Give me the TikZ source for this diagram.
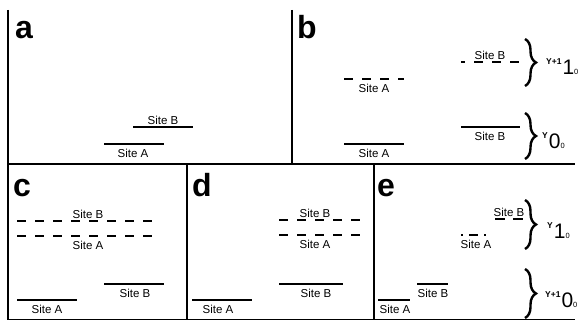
\documentclass[tikz,border=0pt]{standalone}
\usepackage{fontspec}
\setmainfont{Liberation Sans}
\usetikzlibrary{decorations.pathreplacing,positioning}
\newcommand{\spinlev}[3]{\raisebox{10pt}{\fontsize{8.5}{8.5}\selectfont\bfseries #1}\kern1pt{\fontsize{21}{21}\selectfont #2}{\fontsize{7.5}{7.5}\selectfont #3}}

\begin{document}
\begin{tikzpicture}[x=1pt, y=-1pt]
        \tikzstyle{frame}=[line width=1.7pt]
        \tikzstyle{level}=[line width=1.9pt]
        \tikzstyle{virtual}=[level, dash pattern=on 9pt off 9pt]
        \tikzstyle{lblup}=[above=2pt, inner sep=0pt, font=\fontsize{11.5}{11.5}\selectfont]
        \tikzstyle{lbldown}=[below=4.5pt, inner sep=0pt, font=\fontsize{11.5}{11.5}\selectfont]
        \tikzstyle{panel}=[anchor=base west, inner sep=0pt, font=\fontsize{32}{32}\selectfont\bfseries]
        \tikzstyle{group}=[line width=2.4pt, decorate, decoration={brace, amplitude=11pt}]
        \tikzstyle{term}=[anchor=base west, inner sep=0pt]

        \useasboundingbox (0,0) rectangle (583,321);

        % Panel frames
        \draw[frame] (8,10) -- (8,320);
        \draw[frame] (292,10) -- (292,164);
        \draw[frame] (8,164) -- (575,164);
        \draw[frame] (187,164) -- (187,320);
        \draw[frame] (374,164) -- (374,320);
        \draw[frame] (8,319.5) -- (575,319.5);

        % Panel letters
        \node[panel] (pa) at (15,38) {a};
        \node[panel] (pb) at (297,38) {b};
        \node[panel] (pc) at (13,196) {c};
        \node[panel] (pd) at (192,196) {d};
        \node[panel] (pe) at (377,196) {e};

        % Panel a
        \draw[level] (133,127) -- (193,127);
        \node[lblup] (aB) at (163,127) {Site B};
        \draw[level] (104,144) -- (164,144);
        \node[lbldown] (aA) at (133,144) {Site A};

        % Panel b
        \draw[virtual] (344,79) -- (404,79);
        \node[lbldown] (bAv) at (374,79) {Site A};
        \draw[level] (344,144) -- (404,144);
        \node[lbldown] (bA) at (374,144) {Site A};
        \draw[virtual, dash phase=5pt] (461,62) -- (520,62);
        \node[lblup] (bBv) at (490,62) {Site B};
        \draw[level] (461,127) -- (520,127);
        \node[lbldown] (bB) at (490,127) {Site B};

        % Spin states in b
        \draw[group] (525,39) -- (525,86);
        \node[term] (bup) at (546,74.5) {\spinlev{Y+1}{1}{0}};
        \draw[group] (525,113) -- (525,159);
        \node[term] (blow) at (542,148) {\spinlev{Y}{0}{0}};

        % Panel c
        \draw[virtual] (17,221) -- (154,221);
        \node[lblup] (cBv) at (88,221) {Site B};
        \draw[virtual] (17,236) -- (154,236);
        \node[lbldown] (cAv) at (88,236) {Site A};
        \draw[level] (104,284) -- (164,284);
        \node[lbldown] (cB) at (135,284) {Site B};
        \draw[level] (17,300) -- (77,300);
        \node[lbldown] (cA) at (47,300) {Site A};

        % Panel d
        \draw[virtual] (279,220) -- (360,220);
        \node[lblup] (dBv) at (315,220) {Site B};
        \draw[virtual] (279,235) -- (360,235);
        \node[lbldown] (dAv) at (315,235) {Site A};
        \draw[level] (279,284) -- (343,284);
        \node[lbldown] (dB) at (316,284) {Site B};
        \draw[level] (192,300) -- (252,300);
        \node[lbldown] (dA) at (218,300) {Site A};

        % Panel e
        \draw[level, dash pattern=on 10pt off 8pt] (495,219) -- (523,219);
        \node[lblup] (eBv) at (509,219) {Site B};
        \draw[level, dash pattern=on 2pt off 6pt on 9pt off 6pt on 2pt off 40pt] (461,235) -- (487,235);
        \node[lbldown] (eAv) at (476,235) {Site A};
        \draw[level] (417,284) -- (448,284);
        \node[lbldown] (eB) at (433,284) {Site B};
        \draw[level] (378,300) -- (410,300);
        \node[lbldown] (eA) at (395,300) {Site A};

        % Spin states in e
        \draw[group] (525,200) -- (525,249);
        \node[term] (eup) at (547,238) {\spinlev{Y}{1}{0}};
        \draw[group] (525,269) -- (525,318);
        \node[term] (elow) at (545,307) {\spinlev{Y+1}{0}{0}};
\end{tikzpicture}
\end{document}
